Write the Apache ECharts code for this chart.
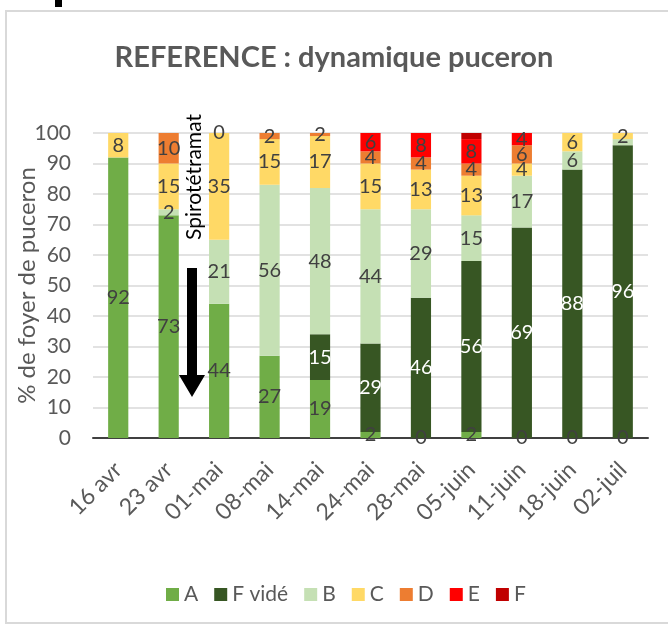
<!DOCTYPE html>
<html>
<head>
<meta charset="utf-8">
<script src="https://cdn.jsdelivr.net/npm/echarts@6/dist/echarts.min.js"></script>
<style>
html,body{margin:0;padding:0;background:#fff;}
#chart{width:668px;height:625px;}
</style>
</head>
<body>
<div id="chart"></div>
<script>
const categories = ['16 avr','23 avr','01-mai','08-mai','14-mai','24-mai','28-mai','05-juin','11-juin','18-juin','02-juil'];
const seriesNames = ['A','F vidé','B','C','D','E','F'];
const valsA     = [92, 73, 44, 27, 19, 2, 0, 2, 0, 0, 0];
const valsFvide = [null, null, null, null, 15, 29, 46, 56, 69, 88, 96];
const valsB     = [null, 2, 21, 56, 48, 44, 29, 15, 17, 6, 2];
const valsC     = [8, 15, 35, 15, 17, 15, 13, 13, 4, 6, 2];
const valsD     = [null, 10, 0, 2, 2, 4, 4, 4, 6, null, null];
const valsE     = [null, null, null, null, null, 6, 8, 8, 4, null, null];
const valsF     = [null, null, null, null, null, null, null, 2, null, null, null];
const yTicks = [0,10,20,30,40,50,60,70,80,90,100];
const annotation = 'Spirotétramat';

const allVals = [valsA, valsFvide, valsB, valsC, valsD, valsE, valsF];
const colors = ['#70ad47','#375623','#c5e0b4','#ffd966','#ed7d31','#ff0000','#c00000'];
const labelColors = ['#404040','#ffffff','#404040','#404040','#404040','#404040','#404040'];
const FONT = 'Lato, "Open Sans", sans-serif';

// hide a label when the segment directly above in the same bar is also tiny (labels would merge)
function nextVal(si, di) {
  for (let k = si + 1; k < allVals.length; k++) {
    const v = allVals[k][di];
    if (v !== null && v !== undefined) return v;
  }
  return null;
}

const chart = echarts.init(document.getElementById('chart'));
const series = seriesNames.map((name, i) => ({
  name: name,
  type: 'bar',
  stack: 'total',
  barWidth: '40%',
  data: allVals[i],
  itemStyle: { color: colors[i] },
  label: {
    show: name !== 'F',
    position: 'inside',
    color: labelColors[i],
    fontSize: 20,
    fontFamily: FONT,
    formatter: (p) => {
      const nv = nextVal(i, p.dataIndex);
      if (p.value < 3 && p.value > 0 && nv !== null && nv < 3) return '';
      return String(p.value);
    }
  },
  emphasis: { disabled: true }
}));

chart.setOption({
  animation: false,
  backgroundColor: '#ffffff',
  title: {
    text: 'REFERENCE : dynamique puceron',
    left: 'center',
    top: 38,
    textStyle: { fontFamily: FONT, fontSize: 29, fontWeight: 'bold', color: '#595959' }
  },
  grid: { left: 93, right: 20, top: 133, bottom: 187, containLabel: false, outerBoundsMode: 'none' },
  legend: {
    bottom: 15,
    left: 161,
    itemWidth: 13,
    itemHeight: 13,
    itemGap: 16,
    icon: 'rect',
    textStyle: { fontFamily: FONT, fontSize: 21, color: '#595959' },
    data: seriesNames
  },
  xAxis: {
    type: 'category',
    data: categories,
    axisLine: { lineStyle: { color: '#404040', width: 2 } },
    axisTick: { show: false },
    axisLabel: { rotate: 45, fontFamily: FONT, fontSize: 23, color: '#595959', margin: 28, interval: 0 }
  },
  yAxis: {
    type: 'value',
    min: yTicks[0],
    max: yTicks[yTicks.length - 1],
    interval: 10,
    name: '% de foyer de puceron',
    nameLocation: 'middle',
    nameGap: 54,
    nameMoveOverlap: false,
    nameTextStyle: { fontFamily: FONT, fontSize: 24, color: '#595959' },
    axisLine: { show: false },
    axisTick: { show: false },
    splitLine: { lineStyle: { color: '#d9d9d9', width: 1.5 } },
    axisLabel: { fontFamily: FONT, fontSize: 21, color: '#595959', margin: 22 }
  },
  graphic: [
    { type: 'rect', shape: { x: 6, y: 11, width: 700, height: 612 }, style: { fill: 'none', stroke: '#d9d9d9', lineWidth: 2 }, z: -1 },
    { type: 'rect', shape: { x: 55, y: 0, width: 7, height: 7 }, style: { fill: '#000' } },
    { type: 'text', x: 194, y: 177, rotation: Math.PI / 2, style: { text: annotation, fontFamily: FONT, fontSize: 21, fill: '#000', align: 'center', verticalAlign: 'middle' }, z: 10 },
    { type: 'polygon', shape: { points: [[187,268],[197,268],[197,375],[205,375],[192,397],[179,375],[187,375]] }, style: { fill: '#000' }, z: 10 }
  ],
  series: series
});
</script>
</body>
</html>
